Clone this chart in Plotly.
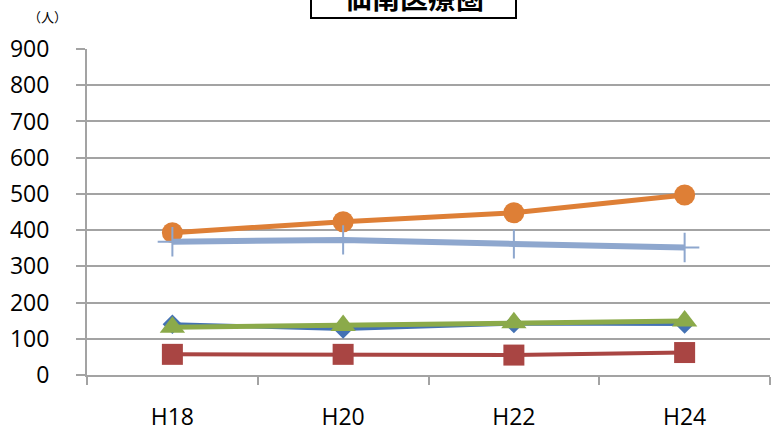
import plotly.graph_objects as go

# Survey years (Heisei era)
years = ["H18", "H20", "H22", "H24"]

# Head counts per year for each series (persons)
series_blue = [140, 127, 142, 141]
series_red = [57, 57, 55, 62]
series_green = [132, 137, 144, 149]
series_orange = [393, 423, 448, 497]
series_lightblue = [368, 373, 362, 352]

y_ticks = list(range(0, 1000, 100))

title_text = "仙南医療圏"
unit_text = "（人）"

# Plot-area geometry in pixels
W, H = 778, 441
L, R, T, B = 87, 8, 49, 66
PW = W - L - R
PH = H - T - B


def px_x(x):
    return (x - L) / PW


def px_y(y):
    return (H - B - y) / PH


fig = go.Figure()

fig.add_trace(go.Scatter(
    x=years, y=series_blue, mode="lines+markers",
    line=dict(color="#4472B4", width=4),
    marker=dict(symbol="diamond", size=15, color="#4472B4"),
))
fig.add_trace(go.Scatter(
    x=years, y=series_red, mode="lines+markers",
    line=dict(color="#A94543", width=4),
    marker=dict(symbol="square", size=21, color="#A94543"),
))
fig.add_trace(go.Scatter(
    x=years, y=series_green, mode="lines+markers",
    line=dict(color="#8BAA4A", width=5),
    marker=dict(symbol="triangle-up", size=22, color="#8BAA4A"),
))
fig.add_trace(go.Scatter(
    x=years, y=series_orange, mode="lines+markers",
    line=dict(color="#DE7F36", width=5),
    marker=dict(symbol="circle", size=21, color="#DE7F36"),
))
fig.add_trace(go.Scatter(
    x=years, y=series_lightblue, mode="lines+markers",
    line=dict(color="#8EA7CE", width=6),
    marker=dict(symbol="cross-thin", size=21,
                line=dict(color="#8EA7CE", width=2), color="#8EA7CE"),
))

axis_font = dict(family="'Open Sans', Lato, sans-serif", size=23, color="#000000")
grid_color = "#A3A3A3"

fig.update_layout(
    width=W, height=H,
    margin=dict(l=L, r=R, t=T, b=B),
    paper_bgcolor="white", plot_bgcolor="white",
    showlegend=False,
    xaxis=dict(
        type="category", categoryorder="array", categoryarray=years,
        range=[-0.5, len(years) - 0.5],
        showgrid=False, zeroline=False,
        showline=True, linecolor=grid_color, linewidth=2,
        ticks="outside", tickson="boundaries", ticklen=8, tickwidth=2,
        tickcolor=grid_color, tickfont=axis_font, ticklabelstandoff=20,
    ),
    yaxis=dict(
        range=[0, 900], tickvals=y_ticks,
        showgrid=True, gridcolor=grid_color, gridwidth=2,
        zeroline=False,
        showline=True, linecolor=grid_color, linewidth=2,
        ticks="outside", ticklen=9, tickwidth=2, tickcolor=grid_color,
        tickfont=axis_font, ticklabelstandoff=22,
    ),
)

# Boxed title, partially running off the top edge
fig.add_shape(
    type="rect", xref="paper", yref="paper",
    x0=px_x(311), x1=px_x(516), y0=px_y(18), y1=px_y(-60),
    line=dict(color="#000000", width=2), fillcolor="white", layer="above",
)
fig.add_annotation(
    text=title_text, xref="paper", yref="paper",
    x=px_x(413.5), y=px_y(-3), xanchor="center", yanchor="middle",
    showarrow=False,
    font=dict(family="Noto Sans CJK JP", size=28, color="#000000", weight="bold"),
)

# Unit label above the value axis
fig.add_annotation(
    text=unit_text, xref="paper", yref="paper",
    x=px_x(47), y=px_y(17), xanchor="center", yanchor="middle",
    showarrow=False,
    font=dict(family="Noto Sans CJK JP", size=13, color="#000000"),
)

fig.write_html("out.html")
